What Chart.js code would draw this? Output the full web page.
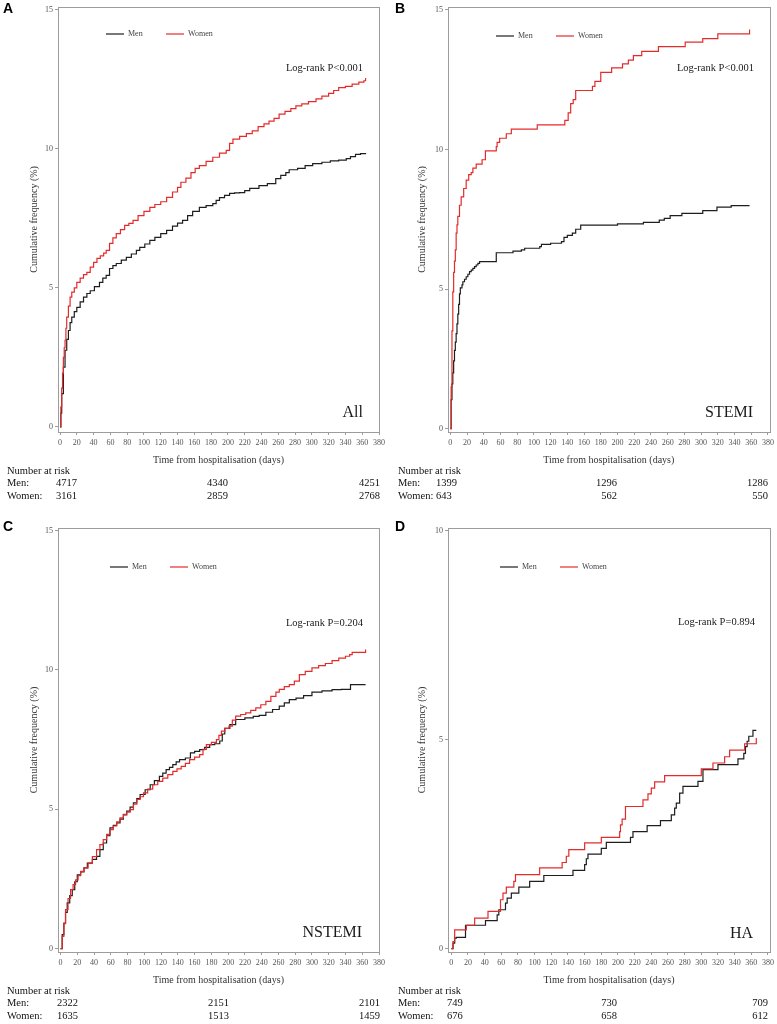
<!DOCTYPE html>
<html>
<head>
<meta charset="utf-8">
<script src="https://cdn.jsdelivr.net/npm/chart.js@4.4.1/dist/chart.umd.min.js"></script>
<style>
  body { margin: 0; background: #fff; }
  #wrap { position: relative; width: 777px; height: 1024px; }
  canvas { position: absolute; }
</style>
</head>
<body>
<div id="wrap">
  <canvas id="panelA" width="388" height="505" style="left:0;top:0"></canvas>
  <canvas id="panelB" width="389" height="505" style="left:388px;top:0"></canvas>
  <canvas id="panelC" width="388" height="514" style="left:0;top:510px"></canvas>
  <canvas id="panelD" width="389" height="514" style="left:388px;top:510px"></canvas>
</div>
<script>
// axis ticks
const xTicks = [0, 20, 40, 60, 80, 100, 120, 140, 160, 180, 200, 220, 240, 260, 280, 300, 320, 340, 360, 380];
const yTicks15 = [0, 5, 10, 15];
const yTicks10 = [0, 5, 10];
const seriesNames = ['Men', 'Women'];

// cumulative frequency (%): [day, %]
const allMen = [[0,0],[1,0.5],[2,1.2],[4,2.15],[6,2.76],[8,3.15],[10,3.47],[12,3.75],[14,3.95],[17,4.15],[20,4.3],[24,4.5],[28,4.67],[32,4.8],[36,4.9],[41,5.05],[47,5.2],[51,5.35],[55,5.45],[59,5.7],[63,5.8],[67,5.88],[73,6.0],[79,6.1],[85,6.22],[91,6.35],[95,6.46],[101,6.58],[107,6.71],[113,6.82],[120,6.95],[127,7.07],[134,7.22],[140,7.33],[146,7.43],[152,7.6],[158,7.75],[166,7.9],[174,7.96],[182,8.03],[186,8.15],[190,8.25],[196,8.33],[202,8.4],[208,8.42],[214,8.43],[220,8.5],[226,8.58],[237,8.68],[247,8.75],[257,8.93],[263,9.05],[269,9.15],[273,9.25],[283,9.3],[292,9.4],[301,9.47],[312,9.52],[322,9.57],[332,9.6],[341,9.65],[346,9.72],[352,9.8],[358,9.83],[364,9.85]];
const allWomen = [[0,0],[1,0.72],[2,1.4],[3,1.94],[4,2.5],[5,2.85],[6,3.12],[7,3.55],[8,3.95],[10,4.35],[12,4.67],[14,4.85],[17,5.0],[20,5.2],[24,5.35],[28,5.48],[32,5.56],[36,5.75],[40,5.92],[44,6.06],[48,6.15],[52,6.25],[55,6.35],[59,6.6],[63,6.8],[67,6.95],[72,7.1],[77,7.25],[82,7.32],[87,7.43],[93,7.6],[100,7.75],[107,7.9],[113,8.0],[120,8.1],[127,8.26],[134,8.45],[140,8.62],[144,8.8],[150,8.95],[156,9.15],[161,9.3],[166,9.4],[174,9.55],[182,9.7],[190,9.85],[198,9.95],[202,10.2],[206,10.35],[214,10.45],[222,10.55],[229,10.65],[236,10.8],[243,10.9],[249,11.0],[255,11.1],[261,11.25],[268,11.35],[275,11.45],[281,11.55],[288,11.62],[296,11.7],[305,11.8],[312,11.9],[320,12.0],[326,12.1],[332,12.2],[340,12.25],[348,12.33],[356,12.4],[362,12.45],[364,12.55]];

const stemiMen = [[0,0],[1,1.04],[2,1.6],[3,2.0],[4,2.43],[5,2.8],[6,3.1],[7,3.4],[8,3.75],[9,4.1],[10,4.45],[11,4.83],[12,5.04],[14,5.15],[15,5.26],[17,5.35],[19,5.44],[21,5.53],[23,5.62],[25,5.68],[27,5.74],[29,5.8],[31,5.86],[33,5.92],[35,5.98],[55,6.3],[75,6.36],[85,6.4],[89,6.46],[107,6.52],[109,6.6],[120,6.64],[133,6.7],[136,6.85],[140,6.92],[146,7.0],[150,7.14],[156,7.29],[200,7.33],[231,7.39],[250,7.47],[256,7.53],[263,7.63],[277,7.71],[302,7.81],[319,7.93],[336,7.99],[358,7.99]];
const stemiWomen = [[0,0],[1,1.5],[2,3.5],[3,4.9],[4,5.6],[5,6.0],[6,6.4],[7,7.0],[8,7.3],[9,7.6],[11,8.0],[13,8.3],[16,8.6],[19,8.9],[22,9.1],[25,9.17],[27,9.33],[31,9.47],[38,9.63],[42,9.95],[55,10.1],[56,10.25],[59,10.4],[67,10.56],[73,10.73],[104,10.88],[137,11.04],[141,11.31],[144,11.64],[147,11.78],[150,12.11],[170,12.26],[173,12.44],[180,12.76],[193,12.92],[206,13.06],[213,13.2],[219,13.36],[229,13.51],[249,13.68],[281,13.84],[302,13.97],[320,14.14],[358,14.29]];

const nstemiMen = [[0,0],[2,0.5],[4,0.92],[6,1.3],[8,1.64],[11,1.9],[14,2.12],[17,2.4],[20,2.65],[24,2.75],[28,2.9],[32,3.07],[38,3.2],[43,3.31],[47,3.55],[51,3.79],[55,4.05],[59,4.33],[63,4.42],[67,4.51],[71,4.65],[75,4.8],[79,4.93],[83,5.08],[87,5.23],[91,5.38],[95,5.53],[101,5.7],[107,5.88],[112,6.03],[118,6.18],[122,6.3],[126,6.42],[130,6.5],[134,6.6],[138,6.7],[142,6.78],[149,6.84],[155,7.02],[160,7.08],[166,7.14],[172,7.22],[178,7.32],[184,7.35],[190,7.45],[193,7.7],[196,7.9],[202,8.04],[209,8.22],[220,8.28],[230,8.33],[237,8.37],[245,8.48],[253,8.58],[261,8.7],[267,8.82],[273,8.93],[281,8.99],[290,9.08],[300,9.2],[312,9.25],[324,9.29],[335,9.3],[346,9.47],[364,9.47]];
const nstemiWomen = [[0,0],[2,0.44],[4,0.9],[6,1.4],[9,1.8],[12,2.12],[15,2.3],[18,2.47],[21,2.62],[24,2.77],[28,2.9],[33,3.07],[38,3.3],[43,3.55],[47,3.73],[51,3.91],[55,4.1],[59,4.27],[63,4.4],[67,4.55],[71,4.69],[75,4.82],[79,4.9],[83,4.99],[87,5.18],[91,5.35],[95,5.45],[99,5.59],[104,5.72],[110,5.88],[116,6.0],[122,6.12],[128,6.24],[134,6.36],[139,6.45],[144,6.54],[149,6.65],[154,6.78],[160,6.87],[166,6.96],[170,7.15],[174,7.32],[180,7.4],[186,7.5],[189,7.65],[192,7.8],[196,7.9],[201,7.98],[205,8.2],[209,8.34],[215,8.4],[221,8.46],[227,8.55],[233,8.64],[239,8.75],[245,8.87],[251,9.05],[257,9.2],[261,9.3],[267,9.4],[273,9.47],[279,9.6],[285,9.83],[292,9.95],[300,10.07],[308,10.15],[316,10.23],[324,10.33],[332,10.42],[340,10.49],[345,10.55],[348,10.63],[364,10.73]];

const haMen = [[0,0],[2,0.13],[4,0.25],[6,0.27],[17,0.56],[41,0.67],[55,0.81],[57,0.93],[65,1.09],[67,1.21],[72,1.33],[81,1.47],[94,1.61],[111,1.75],[146,1.87],[160,2.01],[162,2.15],[164,2.26],[180,2.4],[186,2.54],[215,2.66],[218,2.8],[235,2.94],[251,3.06],[264,3.2],[268,3.36],[270,3.48],[274,3.72],[278,3.88],[296,4.0],[302,4.28],[320,4.4],[344,4.54],[351,4.67],[353,4.83],[355,4.96],[357,5.08],[362,5.22],[366,5.22]];
const haWomen = [[0,0],[2,0.17],[4,0.45],[18,0.56],[28,0.73],[44,0.89],[59,1.17],[62,1.33],[66,1.47],[75,1.61],[77,1.77],[106,1.93],[133,2.06],[138,2.21],[141,2.37],[160,2.53],[180,2.66],[202,2.8],[203,2.96],[205,3.1],[209,3.4],[230,3.56],[236,3.7],[240,3.84],[244,3.99],[256,4.14],[300,4.3],[314,4.44],[328,4.59],[334,4.75],[352,4.9],[366,5.04]];

// number at risk (day 0, middle, end)
const allRiskMen = [4717, 4340, 4251];
const allRiskWomen = [3161, 2859, 2768];
const stemiRiskMen = [1399, 1296, 1286];
const stemiRiskWomen = [643, 562, 550];
const nstemiRiskMen = [2322, 2151, 2101];
const nstemiRiskWomen = [1635, 1513, 1459];
const haRiskMen = [749, 730, 709];
const haRiskWomen = [676, 658, 612];

const serif = '"Liberation Serif", "Times New Roman", serif';
const sans = '"Liberation Sans", Arial, sans-serif';
const frameColor = '#9c9c9c';
const menColor = '#1e1e1e';
const womenColor = '#e32b2b';

// frame, in-plot legend, p-value, subgroup name, panel letter, risk table
const kmDecor = {
  id: 'kmDecor',
  afterDraw(chart, args, o) {
    const ctx = chart.ctx;
    const a = chart.chartArea;
    ctx.save();
    ctx.strokeStyle = frameColor;
    ctx.lineWidth = 1;
    ctx.strokeRect(Math.round(a.left) + 0.5, Math.round(a.top) + 0.5,
      Math.round(a.right - a.left), Math.round(a.bottom - a.top));

    // legend
    const colors = [menColor, womenColor];
    ctx.font = `8px ${serif}`;
    ctx.textBaseline = 'middle';
    ctx.textAlign = 'left';
    seriesNames.forEach((name, i) => {
      const x0 = o.legendX + i * 60;
      ctx.strokeStyle = colors[i];
      ctx.lineWidth = 1.2;
      ctx.beginPath();
      ctx.moveTo(x0, o.legendY);
      ctx.lineTo(x0 + 18, o.legendY);
      ctx.stroke();
      ctx.fillStyle = '#444';
      ctx.fillText(name, x0 + 22, o.legendY);
    });

    ctx.fillStyle = '#1a1a1a';
    ctx.textAlign = 'right';
    ctx.font = `10.5px ${serif}`;
    ctx.fillText(o.pText, o.pX, o.pY);
    ctx.font = `16px ${serif}`;
    ctx.fillText(o.group, o.groupX, o.groupY);

    ctx.textAlign = 'left';
    ctx.textBaseline = 'top';
    ctx.font = `bold 14px ${sans}`;
    ctx.fillStyle = '#000';
    ctx.fillText(o.letter, o.letterX, o.letterY);

    // number at risk
    ctx.font = `10.5px ${serif}`;
    ctx.fillStyle = '#111';
    ctx.textBaseline = 'middle';
    const rows = [a.bottom + 39, a.bottom + 51, a.bottom + 64];
    ctx.fillText('Number at risk', o.riskLabelX, rows[0]);
    ctx.fillText('Men:', o.riskLabelX, rows[1]);
    ctx.fillText('Women:', o.riskLabelX, rows[2]);
    [o.riskMen, o.riskWomen].forEach((vals, r) => {
      vals.forEach((v, c) => {
        ctx.textAlign = c === 0 ? 'left' : 'right';
        ctx.fillText(String(v), o.riskX[c], rows[r + 1]);
      });
    });
    ctx.restore();
  }
};

const toXY = arr => arr.map(p => ({ x: p[0], y: p[1] }));

function makePanel(id, men, women, p) {
  return new Chart(document.getElementById(id), {
    type: 'line',
    data: {
      datasets: [
        { label: 'Women', data: toXY(women), borderColor: womenColor, borderWidth: 1.2,
          stepped: true, pointRadius: 0, fill: false },
        { label: 'Men', data: toXY(men), borderColor: menColor, borderWidth: 1.2,
          stepped: true, pointRadius: 0, fill: false }
      ]
    },
    options: {
      responsive: false,
      animation: false,
      devicePixelRatio: 1,
      layout: { padding: { left: 0, top: p.padTop, right: p.padRight, bottom: p.padBottom } },
      plugins: {
        legend: { display: false },
        tooltip: { enabled: false },
        kmDecor: p.decor
      },
      scales: {
        x: {
          type: 'linear',
          min: p.xMin,
          max: p.xMax,
          afterBuildTicks: s => { s.ticks = xTicks.map(v => ({ value: v })); },
          afterFit: s => { s.height = 34; },
          border: { display: false },
          grid: { drawOnChartArea: false, tickLength: 3, color: frameColor },
          ticks: { padding: 3, maxRotation: 0, autoSkip: false, color: '#555',
            font: { family: serif, size: 8 } },
          title: { display: true, text: 'Time from hospitalisation (days)', color: '#333',
            padding: 0, font: { family: serif, size: 10 } }
        },
        y: {
          min: p.yMin,
          max: p.yMax,
          afterBuildTicks: s => { s.ticks = p.yTicks.map(v => ({ value: v })); },
          afterFit: s => { s.width = p.yWidth; },
          border: { display: false },
          grid: { drawOnChartArea: false, tickLength: 3, color: frameColor },
          ticks: { padding: 2, color: '#555', font: { family: serif, size: 8 } },
          title: { display: true, text: 'Cumulative frequency (%)', color: '#333',
            padding: { top: 28.5, bottom: 0 }, font: { family: serif, size: 10 } }
        }
      }
    },
    plugins: [kmDecor]
  });
}

makePanel('panelA', allMen, allWomen, {
  padTop: 6, padRight: 8, padBottom: 39, yWidth: 58,
  xMin: -2.4, xMax: 380, yMin: -0.18, yMax: 15.11, yTicks: yTicks15,
  decor: { letter: 'A', letterX: 3, letterY: 2, legendX: 106, legendY: 34,
    pText: 'Log-rank P<0.001', pX: 363, pY: 68, group: 'All', groupX: 363, groupY: 413,
    riskLabelX: 7, riskX: [56, 228, 380], riskMen: allRiskMen, riskWomen: allRiskWomen }
});

makePanel('panelB', stemiMen, stemiWomen, {
  padTop: 7, padRight: 7, padBottom: 39, yWidth: 60,
  xMin: -2.75, xMax: 382, yMin: -0.12, yMax: 15.1, yTicks: yTicks15,
  decor: { letter: 'B', letterX: 7, letterY: 2, legendX: 108, legendY: 36,
    pText: 'Log-rank P<0.001', pX: 366, pY: 68, group: 'STEMI', groupX: 365, groupY: 413,
    riskLabelX: 10, riskX: [48, 229, 380], riskMen: stemiRiskMen, riskWomen: stemiRiskWomen }
});

makePanel('panelC', nstemiMen, nstemiWomen, {
  padTop: 18, padRight: 8, padBottom: 38, yWidth: 58,
  xMin: -3, xMax: 380, yMin: -0.12, yMax: 15.09, yTicks: yTicks15,
  decor: { letter: 'C', letterX: 3, letterY: 10, legendX: 110, legendY: 57,
    pText: 'Log-rank P=0.204', pX: 363, pY: 113, group: 'NSTEMI', groupX: 362, groupY: 423,
    riskLabelX: 7, riskX: [57, 229, 380], riskMen: nstemiRiskMen, riskWomen: nstemiRiskWomen }
});

makePanel('panelD', haMen, haWomen, {
  padTop: 18, padRight: 7, padBottom: 38, yWidth: 60,
  xMin: -4, xMax: 382.4, yMin: -0.08, yMax: 10.06, yTicks: yTicks10,
  decor: { letter: 'D', letterX: 7, letterY: 10, legendX: 112, legendY: 57,
    pText: 'Log-rank P=0.894', pX: 367, pY: 112, group: 'HA', groupX: 365, groupY: 424,
    riskLabelX: 10, riskX: [59, 229, 380], riskMen: haRiskMen, riskWomen: haRiskWomen }
});
</script>
</body>
</html>
